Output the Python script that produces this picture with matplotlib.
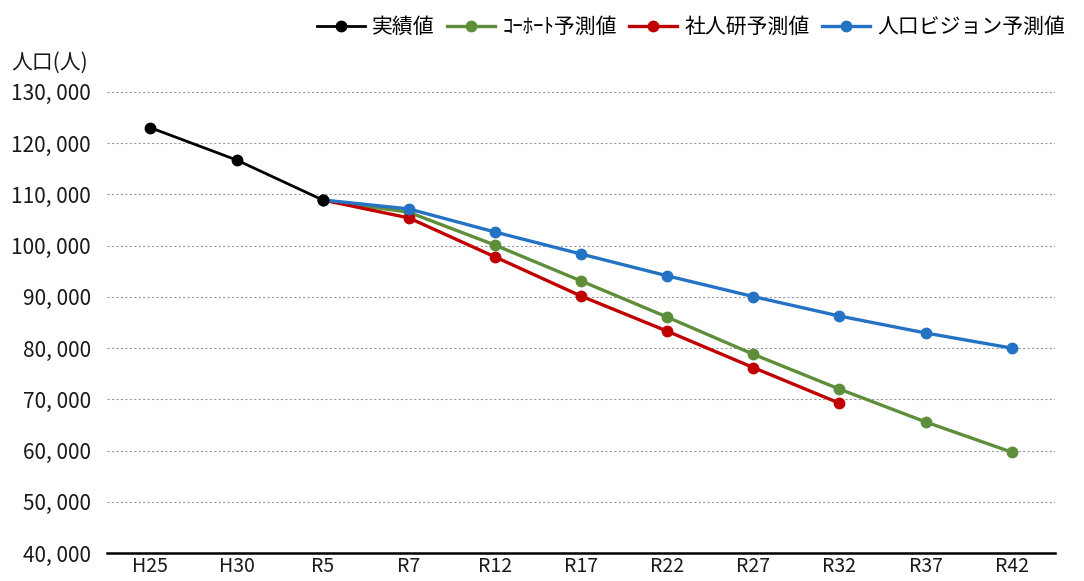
import numpy as np
import matplotlib.pyplot as plt
from matplotlib.ticker import FuncFormatter

plt.rcParams['font.family'] = ['Noto Sans CJK JP', 'DejaVu Sans']

years = ["H25", "H30", "R5", "R7", "R12", "R17", "R22", "R27", "R32", "R37", "R42"]

# actual values (H25 - R5)
actual = [123000, 116700, 108900]
# projections from R5 onward
cohort = [108900, 106500, 100100, 93100, 86050, 78800, 72000, 65600, 59700]
ipss = [108900, 105400, 97800, 90150, 83300, 76200, 69250]
vision = [108900, 107150, 102650, 98350, 94100, 90050, 86250, 82950, 80000]

x = np.arange(len(years))

fig = plt.figure(figsize=(10.84, 5.81), dpi=100)
ax = fig.add_axes([0.099, 0.048, 0.874, 0.794])

ms = 7.5
lw = 2.4
ax.plot(x[:len(actual)], actual, color="black", marker="o", ms=ms, lw=2.0, label="実績値", zorder=5)
ax.plot(x[2:2 + len(cohort)], cohort, color="#5E8E3A", marker="o", ms=ms, lw=lw, label="ｺｰﾎｰﾄ予測値")
ax.plot(x[2:2 + len(ipss)], ipss, color="#C00000", marker="o", ms=ms, lw=lw, label="社人研予測値")
ax.plot(x[2:2 + len(vision)], vision, color="#2372C4", marker="o", ms=ms, lw=lw, label="人口ビジョン予測値")

ax.set_xlim(-0.5, len(years) - 0.5)
ax.set_ylim(40000, 130000)
ax.set_yticks(np.arange(40000, 130001, 10000))
ax.yaxis.set_major_formatter(FuncFormatter(lambda v, p: f"{int(v):,}".replace(",", ", ")))
ax.set_xticks(x)
ax.set_xticklabels(years)

ax.grid(axis="y", color="#9a9a9a", linestyle=(0, (2, 2)), linewidth=0.8)
ax.set_axisbelow(True)
for s in ["top", "right", "left"]:
    ax.spines[s].set_visible(False)
ax.spines["bottom"].set_linewidth(1.8)
ax.spines["bottom"].set_color("black")
ax.tick_params(axis="both", length=0, colors="#1a1a1a")
ax.tick_params(axis="y", labelsize=15, pad=12)
ax.tick_params(axis="x", labelsize=14, pad=2)

fig.text(0.01, 0.882, "人口(人)", fontsize=15, color="#1a1a1a")

fig.legend(loc="upper right", bbox_to_anchor=(1.0, 1.005), ncol=4, frameon=False,
           fontsize=15, handlelength=2.3, handletextpad=0.35, columnspacing=0.6)

fig.savefig("out.png", dpi=100)
